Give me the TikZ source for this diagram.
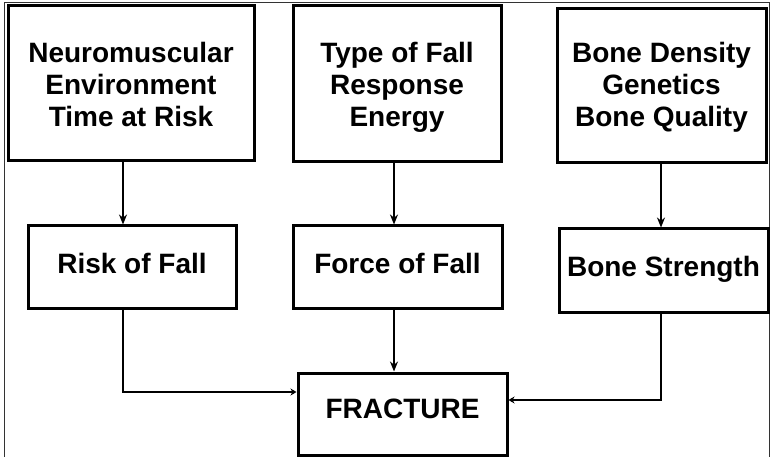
\documentclass[tikz,border=0pt]{standalone}
\usepackage{fontspec}
\setmainfont{Liberation Sans}
\usetikzlibrary{arrows.meta}
\begin{document}
\begin{tikzpicture}[x=1pt,y=-1pt,
  box/.style={draw=black,line width=3pt,rectangle,align=center,inner sep=0pt,
    font=\bfseries\fontsize{28}{32}\selectfont},
  onebox/.style={box,text height=20pt,text depth=8pt},
  link/.style={draw=black,line width=2pt,-{Stealth[length=10pt,width=8pt]}},
  sidelink/.style={draw=black,line width=2pt,-{Stealth[length=6pt,width=7pt]}}]
  \useasboundingbox (0,0) rectangle (771,457);
  % outer frame (open at the bottom edge of the page)
  \draw[line width=1pt,black!80] (4,470) -- (4,3) -- (769,3) -- (769,470);

  % top row: contributing factors
  \node[box,text height=88pt,text depth=1pt,minimum width=246pt,minimum height=155pt] (b1) at (131,83.5)
    {Neuromuscular\\Environment\\Time at Risk};
  \node[box,text height=87pt,text depth=1pt,minimum width=208pt,minimum height=156pt] (b2) at (397,84)
    {Type of Fall\\Response\\Energy};
  \node[box,text height=85pt,text depth=3pt,minimum width=209pt,minimum height=154pt] (b3) at (661.5,86)
    {Bone Density\\Genetics\\Bone Quality};

  % middle row
  \node[onebox,minimum width=208pt,minimum height=82pt] (r1) at (132,267) {Risk of Fall};
  \node[onebox,minimum width=209pt,minimum height=82pt] (r2) at (397.5,267) {Force of Fall};
  \node[onebox,minimum width=209pt,minimum height=83pt] (r3) at (663.5,270.5) {Bone Strength};

  % outcome
  \node[box,text height=20pt,text depth=12pt,minimum width=209pt,minimum height=82pt] (fr) at (402.5,414) {FRACTURE};

  % connector guide positions
  \coordinate (c1) at (123,0);
  \coordinate (c2) at (394,0);
  \coordinate (c3) at (661,0);
  \coordinate (k1) at (0,392);
  \coordinate (k3) at (0,400);

  \draw[link] (b1.south -| c1) -- (r1.north -| c1);
  \draw[link] (b2.south -| c2) -- (r2.north -| c2);
  \draw[link] (b3.south -| c3) -- (r3.north -| c3);
  \draw[link] (r2.south -| c2) -- (fr.north -| c2);
  \draw[sidelink] (r1.south -| c1) -- (c1 |- k1) -- (fr.west |- k1);
  \draw[sidelink] (r3.south -| c3) -- (c3 |- k3) -- (fr.east |- k3);
\end{tikzpicture}
\end{document}
